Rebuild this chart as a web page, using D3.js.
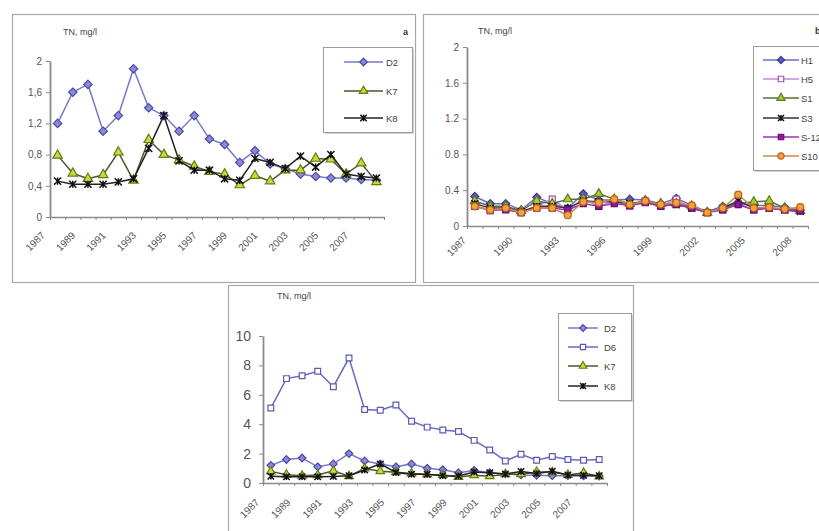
<!DOCTYPE html>
<html>
<head>
<meta charset="utf-8">
<script src="https://cdn.jsdelivr.net/npm/d3@7"></script>
<style>
  body { margin: 0; background: #fff; }
  svg { display: block; font-family: "Liberation Sans", Arial, sans-serif; }
</style>
</head>
<body>
<svg id="chart" width="819" height="531"></svg>
<script>
// Sampling years (category axis shared by all three panels)
const years = [1987, 1988, 1989, 1990, 1991, 1992, 1993, 1994, 1995, 1996, 1997,
               1998, 1999, 2000, 2001, 2002, 2003, 2004, 2005, 2006, 2007, 2008];

// Tick labels
const yearLabelsA = [1987, 1989, 1991, 1993, 1995, 1997, 1999, 2001, 2003, 2005, 2007];
const yearLabelsB = [1987, 1990, 1993, 1996, 1999, 2002, 2005, 2008];
const yearLabelsC = [1987, 1989, 1991, 1993, 1995, 1997, 1999, 2001, 2003, 2005, 2007];
const yTicksA = [0, 0.4, 0.8, 1.2, 1.6, 2];
const yTicksB = [0, 0.4, 0.8, 1.2, 1.6, 2];
const yTicksC = [0, 2, 4, 6, 8, 10];

// Total nitrogen, mg/l — panel a stations
const D2 = [1.2, 1.6, 1.7, 1.1, 1.3, 1.9, 1.4, 1.3, 1.1, 1.3, 1.0, 0.93, 0.7, 0.85, 0.68, 0.62, 0.55, 0.52, 0.5, 0.5, 0.48, 0.47];
const K7 = [0.79, 0.56, 0.49, 0.54, 0.83, 0.47, 0.99, 0.8, 0.73, 0.65, 0.58, 0.55, 0.41, 0.53, 0.46, 0.6, 0.6, 0.75, 0.74, 0.55, 0.69, 0.45];
const K8 = [0.46, 0.42, 0.42, 0.42, 0.45, 0.49, 0.88, 1.3, 0.72, 0.6, 0.6, 0.49, 0.47, 0.75, 0.7, 0.62, 0.78, 0.64, 0.8, 0.55, 0.52, 0.5];

// Panel b stations
const H1 = [0.33, 0.25, 0.25, 0.18, 0.32, 0.25, 0.2, 0.36, 0.29, 0.29, 0.3, 0.29, 0.25, 0.31, 0.23, 0.16, 0.22, 0.25, 0.23, 0.23, 0.21, 0.18];
const H5 = [0.22, 0.17, 0.2, 0.15, 0.22, 0.3, 0.18, 0.3, 0.22, 0.28, 0.22, 0.28, 0.22, 0.3, 0.2, 0.15, 0.18, 0.25, 0.18, 0.2, 0.18, 0.18];
const S1 = [0.28, 0.22, 0.22, 0.17, 0.28, 0.25, 0.3, 0.3, 0.36, 0.3, 0.25, 0.28, 0.25, 0.25, 0.22, 0.15, 0.2, 0.25, 0.27, 0.28, 0.2, 0.17];
const S3 = [0.25, 0.2, 0.2, 0.16, 0.22, 0.22, 0.2, 0.28, 0.27, 0.27, 0.25, 0.27, 0.23, 0.24, 0.2, 0.15, 0.2, 0.28, 0.2, 0.2, 0.18, 0.16];
const S12 = [0.22, 0.18, 0.18, 0.15, 0.2, 0.2, 0.18, 0.25, 0.22, 0.25, 0.23, 0.26, 0.22, 0.24, 0.2, 0.15, 0.18, 0.24, 0.18, 0.2, 0.18, 0.17];
const S10 = [0.22, 0.18, 0.2, 0.15, 0.2, 0.2, 0.12, 0.27, 0.26, 0.3, 0.24, 0.28, 0.24, 0.26, 0.23, 0.15, 0.2, 0.35, 0.2, 0.21, 0.19, 0.21];

// Panel c stations (D6 added to the panel a set)
const D2c = [1.2, 1.6, 1.7, 1.1, 1.3, 2.0, 1.5, 1.3, 1.1, 1.3, 1.0, 0.9, 0.7, 0.85, 0.7, 0.62, 0.55, 0.52, 0.5, 0.5, 0.48, 0.47];
const D6 = [5.1, 7.1, 7.3, 7.6, 6.55, 8.5, 5.0, 4.95, 5.3, 4.2, 3.8, 3.6, 3.5, 2.9, 2.25, 1.5, 1.95, 1.55, 1.8, 1.6, 1.55, 1.6];

// Series styling
const styles = {
  D2:  { shape: "diamond",  line: "#7878cc", fill: "#8a8ad8", stroke: "#4a4aa2" },
  D6:  { shape: "square",   line: "#6a6ac2", fill: "#ffffff", stroke: "#5a5ab2" },
  K7:  { shape: "triangle", line: "#4c5628", fill: "#c8d840", stroke: "#6b7a10" },
  K8:  { shape: "star",     line: "#222222", fill: "none",    stroke: "#111111" },
  H1:  { shape: "diamond",  line: "#6c6cc8", fill: "#5a5ab8", stroke: "#3a3a90" },
  H5:  { shape: "square",   line: "#cc88dd", fill: "#ffffff", stroke: "#a050b0" },
  S1:  { shape: "triangle", line: "#56703a", fill: "#a8cc33", stroke: "#667722" },
  S3:  { shape: "star",     line: "#333333", fill: "none",    stroke: "#111111" },
  S12: { shape: "square",   line: "#9933bb", fill: "#8a1a9a", stroke: "#6a0a7a" },
  S10: { shape: "circle",   line: "#c88a55", fill: "#f2a040", stroke: "#c06010" }
};

const svg = d3.select("#chart");
svg.append("rect").attr("width", 819).attr("height", 531).attr("fill", "#fff");

function drawMarker(g, shape, cx, cy, r, st) {
  let d;
  if (shape === "star") {
    const s = r * 0.85;
    g.append("path")
      .attr("d", `M${cx - s},${cy - s}L${cx + s},${cy + s}M${cx - s},${cy + s}L${cx + s},${cy - s}M${cx},${cy - s}L${cx},${cy + s}`)
      .attr("stroke", st.stroke).attr("stroke-width", 1.5).attr("fill", "none");
    return;
  }
  if (shape === "diamond") {
    d = `M0,${-r}L${r},0L0,${r}L${-r},0Z`;
  } else if (shape === "square") {
    d = d3.symbol().type(d3.symbolSquare).size(2.3 * r * r)();
  } else if (shape === "triangle") {
    d = d3.symbol().type(d3.symbolTriangle).size(2.2 * r * r)();
  } else {
    d = d3.symbol().type(d3.symbolCircle).size(2.4 * r * r)();
  }
  g.append("path")
    .attr("d", d)
    .attr("transform", `translate(${cx},${cy})`)
    .attr("fill", st.fill).attr("stroke", st.stroke).attr("stroke-width", 1.2);
}

function drawPanel(cfg) {
  const g = svg.append("g");
  const [bx0, by0, bx1, by1] = cfg.box;
  g.append("rect")
    .attr("x", bx0 + 0.5).attr("y", by0 + 0.5)
    .attr("width", bx1 - bx0).attr("height", by1 - by0)
    .attr("fill", "#fff").attr("stroke", "#a8a8a8").attr("stroke-width", 1.2);

  const x = d3.scaleBand().domain(years).range([cfg.x0, cfg.x1]);
  const bw = x.bandwidth();
  const cx = yr => x(yr) + bw / 2;
  const y = d3.scaleLinear().domain([0, cfg.yMax]).range([cfg.yBase, cfg.yTop]);

  // Y axis
  const yAxis = g.append("g")
    .attr("transform", `translate(${cfg.x0},0)`)
    .call(d3.axisLeft(y).tickValues(cfg.yTicks).tickSize(4).tickSizeOuter(0).tickPadding(cfg.yPad).tickFormat(cfg.fmt));
  yAxis.select(".domain").attr("stroke", "#8a8a8a").attr("stroke-width", 1.8);
  yAxis.selectAll(".tick line").attr("stroke", "#8a8a8a");
  yAxis.selectAll(".tick text").attr("fill", "#555").attr("font-size", cfg.yFont).attr("font-family", "Liberation Sans, Arial, sans-serif");

  // X axis: line plus tick marks at category boundaries
  const idx = d3.scaleLinear().domain([0, years.length]).range([cfg.x0, cfg.x1]);
  const xAxis = g.append("g")
    .attr("transform", `translate(0,${cfg.yBase})`)
    .call(d3.axisBottom(idx).tickValues(d3.range(years.length + 1)).tickSize(3).tickSizeOuter(0).tickFormat(""));
  xAxis.select(".domain").attr("stroke", "#8a8a8a").attr("stroke-width", 1.4);
  xAxis.selectAll(".tick line").attr("stroke", "#8a8a8a");

  // Rotated year labels
  g.selectAll("text.yr").data(cfg.labels).join("text")
    .attr("class", "yr")
    .attr("transform", d => `translate(${cx(d) + cfg.ldx},${cfg.yBase + cfg.ldy}) rotate(-45)`)
    .attr("text-anchor", "end")
    .attr("font-size", 10).attr("fill", "#555")
    .text(d => d);

  // Title and panel letter
  g.append("text").attr("x", cfg.title[0]).attr("y", cfg.title[1])
    .attr("font-size", 9).attr("fill", "#444").text("TN, mg/l");
  g.append("text").attr("x", cfg.letter[0]).attr("y", cfg.letter[1])
    .attr("font-size", 9).attr("font-weight", "bold").attr("fill", "#333").text(cfg.letter[2]);

  // Series
  const line = d3.line().x((v, i) => cx(years[i])).y(v => y(v));
  cfg.series.forEach(s => {
    const st = styles[s.key];
    g.append("path").attr("d", line(s.values))
      .attr("fill", "none").attr("stroke", st.line).attr("stroke-width", 1.5);
    s.values.forEach((v, i) => drawMarker(g, st.shape, cx(years[i]), y(v), cfg.mr, st));
  });

  // Legend
  const L = cfg.legend;
  g.append("rect").attr("x", L.x0 + 2).attr("y", L.y0 + 2)
    .attr("width", L.x1 - L.x0).attr("height", L.y1 - L.y0).attr("fill", "#d4d4d4");
  g.append("rect").attr("x", L.x0 + 0.5).attr("y", L.y0 + 0.5)
    .attr("width", L.x1 - L.x0).attr("height", L.y1 - L.y0)
    .attr("fill", "#fff").attr("stroke", "#9a9a9a");
  cfg.series.forEach((s, i) => {
    const st = styles[s.key];
    const ly = L.rows[i];
    g.append("line").attr("x1", L.lx0).attr("x2", L.lx1).attr("y1", ly).attr("y2", ly)
      .attr("stroke", st.line).attr("stroke-width", 1.5);
    drawMarker(g, st.shape, (L.lx0 + L.lx1) / 2, ly, cfg.mr * 0.9, st);
    g.append("text").attr("x", L.tx).attr("y", ly + 3.5)
      .attr("font-size", 9.5).attr("fill", "#444").text(s.name);
  });
}

// Panel a
drawPanel({
  box: [12, 14, 415, 282],
  x0: 50, x1: 384, yBase: 217, yTop: 61, yMax: 2,
  yTicks: yTicksA, fmt: d => String(d).replace(".", ","), yFont: 10, yPad: 4,
  labels: yearLabelsA, ldx: -12, ldy: 19,
  title: [63, 35], letter: [403, 35, "a"], mr: 4.2,
  series: [{ key: "D2", name: "D2", values: D2 }, { key: "K7", name: "K7", values: K7 }, { key: "K8", name: "K8", values: K8 }],
  legend: { x0: 323, y0: 47, x1: 412, y1: 132, lx0: 344, lx1: 383, tx: 386, rows: [62, 91, 118] }
});

// Panel b
drawPanel({
  box: [423, 14, 830, 282],
  x0: 467, x1: 808, yBase: 226, yTop: 47, yMax: 2,
  yTicks: yTicksB, fmt: d => String(d), yFont: 10, yPad: 4,
  labels: yearLabelsB, ldx: -8, ldy: 15,
  title: [478, 34], letter: [815, 34, "b"], mr: 4,
  series: [
    { key: "H1", name: "H1", values: H1 }, { key: "H5", name: "H5", values: H5 },
    { key: "S1", name: "S1", values: S1 }, { key: "S3", name: "S3", values: S3 },
    { key: "S12", name: "S-12", values: S12 }, { key: "S10", name: "S10", values: S10 }
  ],
  legend: { x0: 753, y0: 46, x1: 840, y1: 170, lx0: 763, lx1: 799, tx: 801, rows: [60, 79, 98, 118, 137, 156] }
});

// Panel c
drawPanel({
  box: [228, 285, 633, 545],
  x0: 263, x1: 607, yBase: 483, yTop: 336, yMax: 10,
  yTicks: yTicksC, fmt: d => String(d), yFont: 14, yPad: 8,
  labels: yearLabelsC, ldx: -11, ldy: 20,
  title: [277, 299], letter: [640, 299, ""], mr: 3.8,
  series: [
    { key: "D2", name: "D2", values: D2c }, { key: "D6", name: "D6", values: D6 },
    { key: "K7", name: "K7", values: K7 }, { key: "K8", name: "K8", values: K8 }
  ],
  legend: { x0: 558, y0: 313, x1: 631, y1: 400, lx0: 568, lx1: 598, tx: 604, rows: [328, 347, 366, 386] }
});
</script>
</body>
</html>
